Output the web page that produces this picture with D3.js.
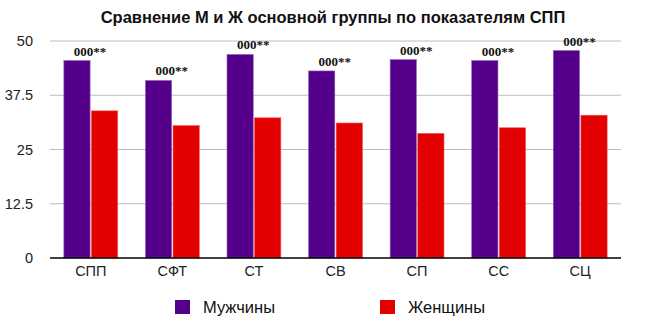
<!DOCTYPE html>
<html lang="ru">
    <head>
        <meta charset="utf-8">
        <title>Сравнение М и Ж</title>
        <script type="text/javascript" src="https://d3js.org/d3.v7.min.js"></script>
        <style>
            body { margin: 0; background: #fff; }
            svg { display: block; font-family: "Liberation Sans", Arial, sans-serif; }
            .axis text { font-size: 14.5px; fill: #222; }
        </style>
    </head>
    <body>
        <script>
            // data
            const categories = ["СПП", "СФТ", "СТ", "СВ", "СП", "СС", "СЦ"];
            const seriesNames = ["Мужчины", "Женщины"];
            const men = [45.5, 40.9, 46.9, 43.1, 45.7, 45.5, 47.8];
            const women = [33.9, 30.5, 32.3, 31.1, 28.7, 30.0, 32.9];
            const yTicks = [0, 12.5, 25, 37.5, 50];
            const noteText = "000**";

            const w = 648, h = 326;
            const plotLeft = 50, plotRight = 621, plotTop = 41, plotBottom = 258;

            const svg = d3.select("body").append("svg")
                .attr("width", w)
                .attr("height", h);

            // scales
            const xScale = d3.scaleBand()
                .domain(categories)
                .range([plotLeft, plotRight])
                .paddingInner(0.34)
                .paddingOuter(0.17);
            const xSub = d3.scaleBand()
                .domain(seriesNames)
                .range([0, xScale.bandwidth()])
                .paddingInner(0.05);
            const yScale = d3.scaleLinear()
                .domain([0, 50])
                .range([plotBottom, plotTop]);
            const color = d3.scaleOrdinal()
                .domain(seriesNames)
                .range(["#54008b", "#e20000"]);

            // title
            svg.append("text")
                .attr("x", 333)
                .attr("y", 23)
                .attr("text-anchor", "middle")
                .style("font-size", "16.5px")
                .style("font-weight", "bold")
                .style("fill", "#111")
                .text("Сравнение М и Ж основной группы по показателям СПП");

            // gridlines
            svg.append("g")
                .selectAll("line")
                .data(yTicks.filter(d => d > 0))
                .join("line")
                .attr("x1", plotLeft)
                .attr("x2", plotRight)
                .attr("y1", d => yScale(d))
                .attr("y2", d => yScale(d))
                .attr("stroke", "#bdbdbd")
                .attr("stroke-width", 1);

            // y axis
            const yAxis = d3.axisLeft(yScale)
                .tickValues(yTicks)
                .tickSize(0)
                .tickPadding(0)
                .tickFormat(d => d);
            svg.append("g")
                .attr("class", "axis")
                .attr("transform", `translate(33,0)`)
                .call(yAxis)
                .call(g => g.select(".domain").remove());

            // bars
            const rows = categories.map((c, i) => ({ cat: c, vals: [men[i], women[i]] }));
            const groups = svg.append("g")
                .selectAll("g")
                .data(rows)
                .join("g")
                .attr("transform", d => `translate(${xScale(d.cat)},0)`);

            groups.selectAll("rect")
                .data(d => d.vals.map((v, j) => ({ name: seriesNames[j], v: v })))
                .join("rect")
                .attr("x", d => xSub(d.name))
                .attr("width", xSub.bandwidth())
                .attr("y", d => yScale(d.v))
                .attr("height", d => yScale(0) - yScale(d.v))
                .attr("fill", d => color(d.name))
                .attr("stroke", d => d.name === "Мужчины" ? "#8e62b8" : "#f05050")
                .attr("stroke-width", 0.6);

            // notes above men bars
            groups.append("text")
                .attr("x", xSub("Мужчины") + xSub.bandwidth())
                .attr("y", (d, i) => yScale(men[i]) - 5)
                .attr("text-anchor", "middle")
                .style("font-family", "'Liberation Serif', 'Times New Roman', serif")
                .style("font-weight", "bold")
                .style("font-size", "13px")
                .style("fill", "#111")
                .text(noteText);

            // x axis
            const xAxis = d3.axisBottom(xScale)
                .tickSize(0)
                .tickPadding(8);
            svg.append("g")
                .attr("class", "axis")
                .attr("transform", `translate(0,${plotBottom})`)
                .call(xAxis)
                .call(g => g.select(".domain").remove());

            svg.append("line")
                .attr("x1", plotLeft)
                .attr("x2", plotRight)
                .attr("y1", plotBottom)
                .attr("y2", plotBottom)
                .attr("stroke", "#000")
                .attr("stroke-width", 1.5);

            // legend
            const legendX = [175, 380];
            const legend = svg.append("g")
                .selectAll("g")
                .data(seriesNames)
                .join("g")
                .attr("transform", (d, i) => `translate(${legendX[i]},300)`);
            legend.append("rect")
                .attr("width", 15)
                .attr("height", 14)
                .attr("fill", d => color(d));
            legend.append("text")
                .attr("x", 28)
                .attr("y", 13)
                .style("font-size", "16.5px")
                .style("fill", "#111")
                .text(d => d);
        </script>
    </body>
</html>
